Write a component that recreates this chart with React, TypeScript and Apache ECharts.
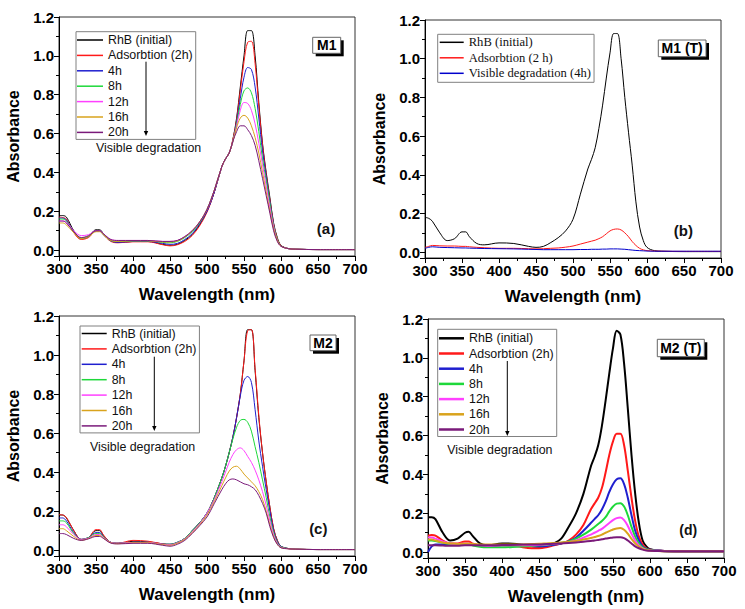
import React, { useEffect, useRef } from "react";
import * as echarts from "echarts";

const WL = [300,305,310,320,330,340,350,355,360,370,380,400,420,440,450,460,470,480,490,500,510,520,525,530,535,540,545,550,555,560,565,570,575,580,585,590,595,600,610,620,650,700];

const LEG7 = ["RhB (initial)", "Adsorbtion (2h)", "4h", "8h", "12h", "16h", "20h"];
const LEG3 = ["RhB (initial)", "Adsorbtion (2 h)", "Visible degradation (4h)"];
const COLORS7 = ["#000000", "#ff1a1a", "#1f1fcf", "#1ed83a", "#ff40ff", "#d9a31c", "#7a1a7a"];
const COLORS3 = ["#000000", "#ff1a1a", "#0000cc"];

// Panel (a) M1
const A_RHB = [0.178,0.178,0.17,0.10,0.06,0.07,0.105,0.105,0.085,0.05,0.04,0.045,0.045,0.03,0.025,0.03,0.05,0.08,0.13,0.2,0.3,0.43,0.47,0.5,0.57,0.68,0.84,1.0,1.13,1.13,1.0,0.76,0.55,0.4,0.27,0.14,0.065,0.025,0.008,0.005,0.003,0.003];
const A_ADS = [0.17,0.168,0.16,0.09,0.055,0.065,0.1,0.1,0.08,0.045,0.038,0.043,0.043,0.028,0.022,0.028,0.045,0.075,0.125,0.195,0.3,0.43,0.47,0.5,0.57,0.67,0.82,0.97,1.07,1.075,0.96,0.74,0.54,0.39,0.26,0.135,0.06,0.025,0.008,0.005,0.003,0.003];
const A_4H = [0.165,0.165,0.155,0.095,0.06,0.07,0.1,0.1,0.08,0.048,0.04,0.045,0.045,0.035,0.03,0.035,0.055,0.085,0.135,0.2,0.3,0.43,0.47,0.5,0.56,0.66,0.78,0.89,0.94,0.93,0.84,0.68,0.51,0.38,0.25,0.13,0.055,0.022,0.008,0.005,0.003,0.003];
const A_8H = [0.16,0.16,0.15,0.095,0.06,0.072,0.1,0.1,0.08,0.05,0.045,0.048,0.048,0.04,0.038,0.045,0.065,0.095,0.14,0.21,0.31,0.43,0.47,0.5,0.56,0.65,0.75,0.82,0.835,0.81,0.73,0.61,0.47,0.36,0.24,0.125,0.055,0.022,0.008,0.005,0.003,0.003];
const A_12H = [0.15,0.15,0.145,0.1,0.075,0.08,0.1,0.1,0.085,0.055,0.05,0.05,0.05,0.045,0.045,0.05,0.07,0.1,0.145,0.21,0.31,0.43,0.47,0.5,0.56,0.64,0.72,0.76,0.755,0.72,0.65,0.55,0.44,0.33,0.22,0.12,0.05,0.02,0.008,0.005,0.003,0.003];
const A_16H = [0.14,0.14,0.13,0.09,0.06,0.07,0.095,0.095,0.08,0.05,0.045,0.048,0.048,0.042,0.042,0.048,0.068,0.1,0.145,0.21,0.31,0.43,0.47,0.5,0.56,0.63,0.68,0.694,0.68,0.64,0.58,0.5,0.4,0.3,0.2,0.11,0.05,0.02,0.008,0.005,0.003,0.003];
const A_20H = [0.15,0.15,0.14,0.095,0.065,0.075,0.1,0.1,0.085,0.055,0.05,0.05,0.05,0.045,0.045,0.05,0.07,0.1,0.145,0.21,0.31,0.43,0.47,0.5,0.56,0.61,0.64,0.64,0.62,0.59,0.54,0.46,0.37,0.28,0.19,0.1,0.045,0.02,0.008,0.005,0.003,0.003];

// Panel (b) M1 (T)
const B_RHB = [0.18,0.175,0.16,0.1,0.06,0.07,0.105,0.105,0.08,0.045,0.038,0.048,0.045,0.03,0.025,0.03,0.05,0.075,0.11,0.17,0.3,0.43,0.48,0.54,0.64,0.76,0.9,1.03,1.13,1.13,1.0,0.8,0.62,0.45,0.26,0.13,0.06,0.025,0.008,0.005,0.003,0.003];
const B_ADS = [0.025,0.03,0.035,0.033,0.032,0.032,0.03,0.03,0.028,0.025,0.023,0.02,0.02,0.018,0.017,0.018,0.02,0.022,0.026,0.032,0.042,0.052,0.057,0.062,0.07,0.08,0.095,0.11,0.118,0.12,0.115,0.1,0.08,0.055,0.035,0.02,0.012,0.008,0.006,0.005,0.004,0.004];
const B_VIS = [0.02,0.025,0.028,0.025,0.024,0.023,0.022,0.022,0.021,0.02,0.019,0.018,0.017,0.015,0.014,0.013,0.013,0.013,0.013,0.013,0.014,0.014,0.015,0.015,0.015,0.016,0.016,0.017,0.017,0.017,0.016,0.015,0.013,0.011,0.009,0.008,0.007,0.006,0.005,0.005,0.005,0.005];

// Panel (c) M2
const C_RHB = [0.18,0.18,0.165,0.1,0.055,0.065,0.1,0.1,0.075,0.04,0.035,0.045,0.043,0.032,0.03,0.04,0.06,0.1,0.14,0.19,0.27,0.37,0.43,0.5,0.58,0.68,0.8,0.97,1.13,1.13,0.92,0.68,0.5,0.35,0.22,0.11,0.05,0.02,0.008,0.005,0.003,0.003];
const C_ADS = [0.182,0.18,0.168,0.1,0.055,0.065,0.105,0.105,0.078,0.04,0.036,0.05,0.046,0.032,0.028,0.038,0.058,0.098,0.14,0.19,0.27,0.37,0.43,0.5,0.58,0.68,0.8,0.97,1.125,1.13,0.93,0.69,0.5,0.35,0.22,0.11,0.05,0.02,0.008,0.005,0.003,0.003];
const C_4H = [0.165,0.165,0.15,0.09,0.055,0.065,0.09,0.09,0.07,0.04,0.035,0.04,0.04,0.03,0.03,0.04,0.06,0.1,0.14,0.19,0.27,0.37,0.43,0.5,0.58,0.68,0.79,0.87,0.89,0.86,0.72,0.56,0.43,0.31,0.2,0.1,0.045,0.02,0.008,0.005,0.003,0.003];
const C_8H = [0.15,0.15,0.14,0.085,0.055,0.065,0.085,0.085,0.068,0.04,0.035,0.04,0.04,0.03,0.03,0.04,0.06,0.1,0.14,0.19,0.27,0.37,0.43,0.5,0.57,0.63,0.665,0.67,0.655,0.61,0.53,0.45,0.36,0.27,0.17,0.09,0.04,0.018,0.008,0.005,0.003,0.003];
const C_12H = [0.13,0.13,0.12,0.08,0.055,0.062,0.08,0.08,0.065,0.04,0.035,0.04,0.04,0.03,0.028,0.038,0.058,0.095,0.135,0.19,0.26,0.35,0.4,0.45,0.49,0.515,0.524,0.51,0.48,0.45,0.41,0.36,0.3,0.23,0.15,0.08,0.035,0.015,0.007,0.005,0.003,0.003];
const C_16H = [0.11,0.11,0.1,0.07,0.05,0.06,0.075,0.075,0.062,0.038,0.033,0.038,0.038,0.028,0.025,0.035,0.055,0.09,0.13,0.18,0.25,0.33,0.37,0.405,0.425,0.43,0.415,0.39,0.37,0.35,0.33,0.3,0.26,0.2,0.13,0.07,0.03,0.013,0.007,0.005,0.003,0.003];
const C_20H = [0.085,0.085,0.08,0.06,0.05,0.058,0.07,0.07,0.06,0.036,0.032,0.035,0.035,0.025,0.02,0.03,0.05,0.085,0.125,0.17,0.24,0.31,0.34,0.36,0.365,0.36,0.35,0.34,0.335,0.325,0.31,0.28,0.24,0.19,0.12,0.065,0.03,0.012,0.007,0.005,0.003,0.003];

// Panel (d) M2 (T)
const D_RHB = [0.18,0.18,0.17,0.1,0.06,0.07,0.1,0.105,0.085,0.045,0.035,0.045,0.042,0.03,0.028,0.03,0.045,0.07,0.13,0.2,0.3,0.44,0.49,0.55,0.65,0.78,0.92,1.05,1.14,1.12,0.97,0.74,0.5,0.3,0.15,0.06,0.03,0.015,0.008,0.005,0.003,0.003];
const D_ADS = [0.085,0.088,0.085,0.06,0.045,0.045,0.055,0.055,0.045,0.035,0.03,0.035,0.03,0.02,0.02,0.025,0.035,0.045,0.06,0.09,0.14,0.22,0.25,0.28,0.33,0.41,0.5,0.57,0.61,0.61,0.55,0.42,0.28,0.16,0.08,0.04,0.02,0.012,0.008,0.006,0.005,0.005];
const D_4H = [0.0,0.03,0.04,0.04,0.038,0.038,0.04,0.04,0.038,0.035,0.032,0.035,0.035,0.032,0.03,0.032,0.038,0.045,0.055,0.075,0.11,0.15,0.17,0.19,0.22,0.26,0.31,0.35,0.375,0.38,0.35,0.28,0.19,0.11,0.06,0.03,0.018,0.012,0.008,0.006,0.005,0.005];
const D_8H = [0.06,0.06,0.058,0.05,0.04,0.04,0.04,0.04,0.035,0.028,0.025,0.025,0.028,0.032,0.035,0.038,0.042,0.048,0.055,0.07,0.09,0.115,0.13,0.145,0.16,0.18,0.21,0.235,0.25,0.252,0.235,0.19,0.13,0.08,0.045,0.025,0.015,0.01,0.007,0.006,0.005,0.005];
const D_12H = [0.075,0.075,0.07,0.055,0.045,0.042,0.045,0.045,0.04,0.035,0.033,0.035,0.035,0.035,0.037,0.04,0.043,0.047,0.052,0.06,0.075,0.09,0.1,0.11,0.12,0.135,0.15,0.165,0.175,0.178,0.165,0.135,0.095,0.06,0.035,0.02,0.012,0.009,0.007,0.006,0.005,0.005];
const D_16H = [0.065,0.065,0.06,0.05,0.045,0.042,0.045,0.045,0.042,0.04,0.04,0.04,0.04,0.042,0.043,0.045,0.047,0.05,0.053,0.057,0.065,0.073,0.078,0.083,0.09,0.1,0.108,0.117,0.122,0.124,0.115,0.095,0.068,0.045,0.028,0.017,0.011,0.008,0.006,0.005,0.005,0.005];
const D_20H = [0.035,0.035,0.035,0.034,0.033,0.033,0.035,0.035,0.035,0.035,0.035,0.037,0.038,0.04,0.04,0.042,0.043,0.045,0.047,0.05,0.054,0.058,0.06,0.063,0.066,0.07,0.073,0.076,0.077,0.077,0.072,0.06,0.045,0.03,0.02,0.013,0.009,0.007,0.006,0.005,0.005,0.005];

const SANS = "Liberation Sans";
const SERIF = "Liberation Serif";

const GRIDS = [
  { left: 59, top: 17, width: 296, height: 239 },
  { left: 425, top: 20, width: 296, height: 238 },
  { left: 59, top: 316, width: 296, height: 240 },
  { left: 428, top: 319, width: 296, height: 239 },
];

function mkSeries(prefix: string, names: string[], datas: number[][], colors: string[], gi: number, width: number) {
  return datas.map((d, k) => ({
    type: "line",
    name: prefix + "|" + names[k],
    xAxisIndex: gi,
    yAxisIndex: gi,
    data: WL.map((w, i) => [w, d[i]]),
    symbol: "none",
    smooth: 0.35,
    lineStyle: { color: colors[k], width },
    itemStyle: { color: colors[k] },
    emphasis: { disabled: true },
  }));
}

function mkLegend(prefix: string, names: string[], left: number, top: number, padding: number[], itemWidth: number, itemGap: number, font: string, fontSize: number, lineW: number) {
  return {
    show: true,
    orient: "vertical",
    left,
    top,
    padding,
    icon: "rect",
    itemWidth,
    itemHeight: lineW,
    itemGap,
    borderColor: "#808080",
    borderWidth: 1,
    backgroundColor: "#ffffff",
    selectedMode: false,
    z: 5,
    data: names.map((n) => prefix + "|" + n),
    formatter: (n: string) => n.split("|")[1],
    textStyle: { fontFamily: font, fontSize, color: "#111", lineHeight: 14, height: 14 },
  };
}

function xAx(gi: number) {
  return {
    gridIndex: gi,
    type: "value",
    min: 300,
    max: 700,
    interval: 50,
    axisLine: { show: true, onZero: false, lineStyle: { color: "#000", width: 1 } },
    axisTick: { show: true, length: 5, lineStyle: { color: "#000" } },
    minorTick: { show: true, splitNumber: 2, length: 3, lineStyle: { color: "#000" } },
    splitLine: { show: false },
    axisLabel: { fontFamily: SANS, fontWeight: "bold", fontSize: 15, color: "#000", margin: 5 },
    name: "Wavelength (nm)",
    nameLocation: "middle",
    nameGap: 30,
    nameTextStyle: { fontFamily: SANS, fontWeight: "bold", fontSize: 17, color: "#000" },
  };
}

function yAx(gi: number) {
  return {
    gridIndex: gi,
    type: "value",
    min: -0.03,
    max: 1.2,
    axisLine: { show: true, onZero: false, lineStyle: { color: "#000", width: 1 } },
    axisTick: { show: true, length: 5, lineStyle: { color: "#000" } },
    minorTick: { show: true, splitNumber: 2, length: 3, lineStyle: { color: "#000" } },
    splitLine: { show: false },
    axisLabel: {
      fontFamily: SANS, fontWeight: "bold", fontSize: 15, color: "#000", margin: 5,
      showMinLabel: false,
      formatter: (v: number) => v.toFixed(1),
    },
    name: "Absorbance",
    nameLocation: "middle",
    nameGap: 38,
    nameTextStyle: { fontFamily: SANS, fontWeight: "bold", fontSize: 16, color: "#000" },
  };
}

function tagBox(x: number, y: number, w: number, h: number, label: string) {
  return {
    type: "group",
    z: 100,
    children: [
      { type: "rect", z: 100, shape: { x: x + 3, y: y + 3, width: w, height: h }, style: { fill: "#000" } },
      { type: "rect", z: 101, shape: { x, y, width: w, height: h }, style: { fill: "#fff", stroke: "#666", lineWidth: 1 } },
      {
        type: "text", z: 102, x: x + w / 2, y: y + h / 2,
        style: { text: label, fontFamily: SANS, fontWeight: "bold", fontSize: 14, fill: "#000", align: "center", verticalAlign: "middle" },
      },
    ],
  };
}

function arrow(x: number, y1: number, y2: number) {
  return {
    type: "group",
    z: 100,
    children: [
      { type: "line", z: 100, shape: { x1: x, y1, x2: x, y2: y2 - 3 }, style: { stroke: "#000", lineWidth: 1 } },
      { type: "polygon", z: 100, shape: { points: [[x - 2.2, y2 - 5], [x + 2.2, y2 - 5], [x, y2]] }, style: { fill: "#000" } },
    ],
  };
}

function txt(x: number, y: number, s: string, size: number, bold: boolean, align = "left") {
  return {
    type: "text", x, y, z: 100,
    style: { text: s, fontFamily: SANS, fontWeight: bold ? "bold" : "normal", fontSize: size, fill: "#111", align, verticalAlign: "middle" },
  };
}

export default function App() {
  const ref = useRef<HTMLDivElement>(null);
  useEffect(() => {
    if (!ref.current) return;
    const chart = echarts.init(ref.current, undefined, { renderer: "svg" });
    const series = [
      ...mkSeries("a", LEG7, [A_RHB, A_ADS, A_4H, A_8H, A_12H, A_16H, A_20H], COLORS7, 0, 1),
      ...mkSeries("b", LEG3, [B_RHB, B_ADS, B_VIS], COLORS3, 1, 1),
      ...mkSeries("c", LEG7, [C_RHB, C_ADS, C_4H, C_8H, C_12H, C_16H, C_20H], COLORS7, 2, 1),
      ...mkSeries("d", LEG7, [D_RHB, D_ADS, D_4H, D_8H, D_12H, D_16H, D_20H], COLORS7, 3, 2),
    ];
    chart.setOption({
      animation: false,
      backgroundColor: "#ffffff",
      grid: GRIDS.map((g) => ({ ...g, show: true, borderColor: "#333", borderWidth: 1, backgroundColor: "transparent", containLabel: false })),
      xAxis: [0, 1, 2, 3].map(xAx),
      yAxis: [0, 1, 2, 3].map(yAx),
      legend: [
        mkLegend("a", LEG7, 76, 31.7, [1.3, 3, 0, 1], 26, 1.4, SANS, 12.4, 1.5),
        mkLegend("b", LEG3, 437.7, 34.3, [1, 3, 2, 2], 24, 1.5, SERIF, 12.6, 1.5),
        mkLegend("c", LEG7, 80, 326, [0.5, 3, 0, 1.7], 25, 1.4, SANS, 12.4, 1.5),
        mkLegend("d", LEG7, 437.7, 329.3, [2, 3, 0, 1.3], 25, 1.2, SANS, 12.4, 2.5),
      ],
      graphic: [
        txt(96, 148.3, "Visible degradation", 12.4, false),
        arrow(146, 61.7, 136),
        txt(90, 446.7, "Visible degradation", 12.4, false),
        arrow(154.3, 356.7, 431),
        txt(447.3, 450, "Visible degradation", 12.4, false),
        arrow(507.3, 361, 436),
        tagBox(312.7, 37.3, 28, 16, "M1"),
        tagBox(658.3, 40, 47.7, 16.7, "M1 (T)"),
        tagBox(310, 335, 26, 15.7, "M2"),
        tagBox(657.3, 339.3, 47, 17.4, "M2 (T)"),
        txt(326, 228.3, "(a)", 15, true, "center"),
        txt(683.3, 230, "(b)", 15, true, "center"),
        txt(318.3, 528.3, "(c)", 15, true, "center"),
        txt(688.3, 530, "(d)", 14, true, "center"),
      ],
      series,
    });
    return () => chart.dispose();
  }, []);
  return <div ref={ref} style={{ width: 745, height: 609, position: "absolute", left: 0, top: 0 }} />;
}
